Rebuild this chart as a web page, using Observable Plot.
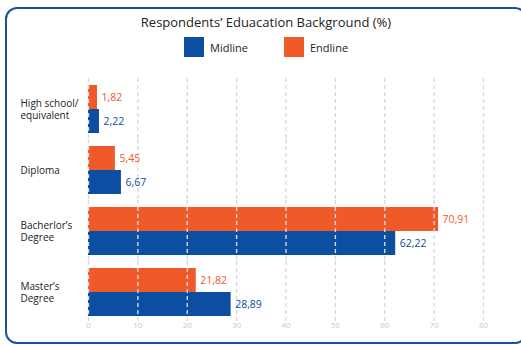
<!DOCTYPE html>
<html>
<head>
<meta charset="utf-8">
<script src="https://cdn.jsdelivr.net/npm/d3@7"></script>
<script src="https://cdn.jsdelivr.net/npm/@observablehq/plot@0.6"></script>
<style>
  html, body { margin: 0; padding: 0; background: #fff; }
  body { font-family: "Open Sans", "Noto Sans", sans-serif; }
  #wrap { position: relative; width: 521px; height: 346px; overflow: hidden; }
  #box {
    position: absolute; left: 5px; top: 7px; width: 522px; height: 337px;
    border: 2px solid #1b50a0; border-radius: 12px; box-sizing: border-box;
  }
  #title {
    position: absolute; top: 13px; left: 0; width: 532px; text-align: center;
    font-size: 13px; color: #222;
  }
  .key { position: absolute; top: 37px; display: flex; align-items: center; font-size: 11px; color: #222; }
  .key span.sw { width: 20px; height: 20px; display: inline-block; margin-right: 6px; }
  #chart { position: absolute; left: 0; top: 0; }
</style>
</head>
<body>
<div id="wrap">
  <div id="box"></div>
  <div id="title">Respondents’ Eduacation Background (%)</div>
  <div id="legend"></div>
  <div id="chart"></div>
</div>
<script>
// Education levels, top to bottom
const categories = ["High school/\nequivalent", "Diploma", "Bacherlor’s\nDegree", "Master’s\nDegree"];
// Share of respondents (%) per survey round
const midline = [2.22, 6.67, 62.22, 28.89];
const endline = [1.82, 5.45, 70.91, 21.82];
const seriesNames = ["Midline", "Endline"];
const seriesColors = ["#0b4ea2", "#f05a28"];
const xTicks = [0, 10, 20, 30, 40, 50, 60, 70, 80];

const rows = [];
categories.forEach((c, i) => {
  rows.push({category: c, series: "Endline", value: endline[i]});
  rows.push({category: c, series: "Midline", value: midline[i]});
});

const fmt = v => d3.format(".2f")(v).replace(".", ",");

// Legend
const legend = document.getElementById("legend");
const legendLeft = [184, 284];
seriesNames.forEach((s, i) => {
  const k = document.createElement("div");
  k.className = "key";
  k.style.left = legendLeft[i] + "px";
  k.innerHTML = `<span class="sw" style="background:${seriesColors[i]}"></span>${s}`;
  legend.appendChild(k);
});

const chart = Plot.plot({
  width: 521,
  height: 346,
  marginLeft: 88,
  marginRight: 38,
  marginTop: 78,
  marginBottom: 24,
  style: {fontFamily: "'Open Sans', 'Noto Sans', sans-serif", background: "transparent"},
  facet: {data: rows, y: "category"},
  fy: {domain: categories, axis: null, paddingInner: 0.2, paddingOuter: 0.1},
  y: {domain: ["Endline", "Midline"], axis: null, padding: 0},
  x: {domain: [0, 80], ticks: xTicks, tickSize: 0, tickPadding: 6, tickFormat: d => d, label: null},
  color: {domain: seriesNames, range: seriesColors},
  marks: [
    Plot.barX(rows, {x: "value", y: "series", fill: "series"}),
    Plot.ruleX(xTicks, {
      stroke: "#d9d9d9", strokeWidth: 1.4, strokeDasharray: "4,3",
      insetTop: -6, insetBottom: -6
    }),
    Plot.text(rows, {
      x: "value", y: "series", text: d => fmt(d.value), fill: "series",
      textAnchor: "start", dx: 4, fontSize: 10.5
    }),
    Plot.text(rows, {
      filter: d => d.series === "Midline",
      text: "category", frameAnchor: "left", textAnchor: "start",
      dx: -68, fontSize: 10, fill: "#222", lineHeight: 1.25
    })
  ]
});
document.getElementById("chart").appendChild(chart);
// Lighten the tick labels
d3.select(chart).selectAll("g[aria-label='x-axis'] text, g[aria-label='x-axis tick label'] text")
  .attr("fill", "#c8c8c8").style("font-size", "8px");
</script>
</body>
</html>
